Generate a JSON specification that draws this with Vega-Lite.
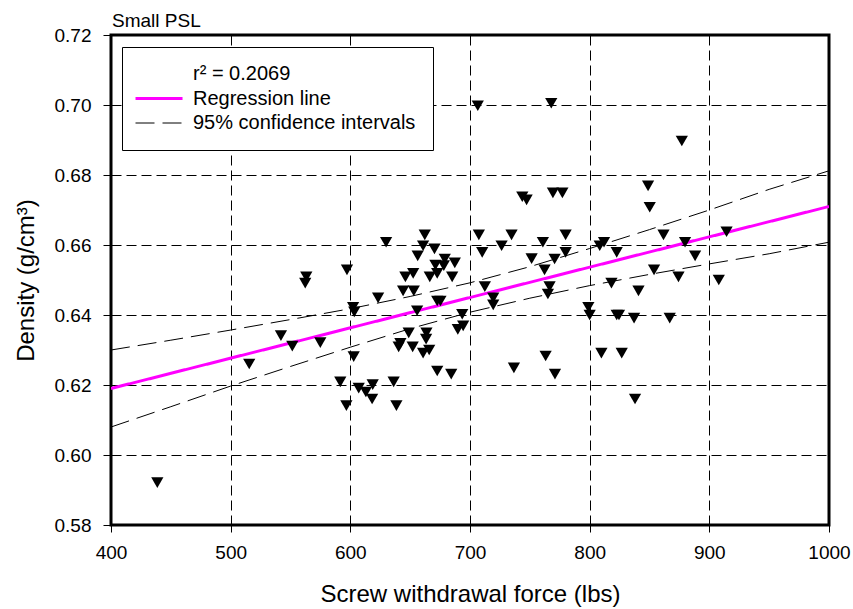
{
  "$schema": "https://vega.github.io/schema/vega-lite/v6.json",
  "width": 718,
  "height": 490,
  "autosize": {"type": "none"},
  "padding": {"left": 111, "top": 35, "right": 24, "bottom": 84},
  "background": "white",
  "title": {"text": "Small PSL", "anchor": "start", "frame": "group", "fontSize": 19, "font": "Liberation Sans", "fontWeight": "normal", "color": "black", "baseline": "alphabetic", "offset": 2, "dx": 1, "dy": 22},
  "config": {
    "view": {"stroke": "black", "strokeWidth": 3},
    "axis": {
      "labelFont": "Liberation Sans", "labelFontSize": 19, "labelColor": "black",
      "titleFont": "Liberation Sans", "titleFontSize": 24, "titleFontWeight": "normal", "titleColor": "black",
      "tickColor": "black", "tickWidth": 1, "domain": false,
      "grid": true, "gridColor": "black", "gridDash": [10, 5], "gridWidth": 1, "gridOpacity": 1,
      "labelOverlap": false, "labelFlush": false
    }
  },
  "datasets": {
    "points": [
      {"f": 662.2, "d": 0.6629}, {"f": 707.4, "d": 0.6629}, {"f": 734.7, "d": 0.6629}, {"f": 629.9, "d": 0.6608},
      {"f": 660.8, "d": 0.6598}, {"f": 670.3, "d": 0.6589}, {"f": 726.4, "d": 0.6598}, {"f": 710.2, "d": 0.6579},
      {"f": 656.3, "d": 0.6569}, {"f": 678.9, "d": 0.656}, {"f": 687.3, "d": 0.6549}, {"f": 671.1, "d": 0.6543},
      {"f": 678.1, "d": 0.6541}, {"f": 751.5, "d": 0.6561}, {"f": 563.2, "d": 0.6509}, {"f": 562.3, "d": 0.6491},
      {"f": 597.2, "d": 0.6529}, {"f": 646.0, "d": 0.6509}, {"f": 652.5, "d": 0.6519}, {"f": 666.4, "d": 0.6509},
      {"f": 672.6, "d": 0.6519}, {"f": 685.1, "d": 0.6509}, {"f": 644.1, "d": 0.6469}, {"f": 653.0, "d": 0.6469},
      {"f": 623.2, "d": 0.6449}, {"f": 712.4, "d": 0.6481}, {"f": 719.4, "d": 0.6449}, {"f": 719.4, "d": 0.6429},
      {"f": 672.6, "d": 0.644}, {"f": 675.3, "d": 0.644}, {"f": 602.3, "d": 0.6422}, {"f": 603.3, "d": 0.6409},
      {"f": 655.8, "d": 0.6412}, {"f": 693.5, "d": 0.6402}, {"f": 694.3, "d": 0.6369}, {"f": 689.8, "d": 0.6359},
      {"f": 542.0, "d": 0.6341}, {"f": 648.8, "d": 0.6349}, {"f": 663.6, "d": 0.6349}, {"f": 663.3, "d": 0.6331},
      {"f": 641.8, "d": 0.6319}, {"f": 640.4, "d": 0.6309}, {"f": 652.1, "d": 0.6309}, {"f": 551.5, "d": 0.6311},
      {"f": 574.9, "d": 0.6321}, {"f": 660.8, "d": 0.6291}, {"f": 665.9, "d": 0.630}, {"f": 602.8, "d": 0.6281},
      {"f": 515.5, "d": 0.626}, {"f": 672.6, "d": 0.624}, {"f": 684.3, "d": 0.6231}, {"f": 736.7, "d": 0.6249},
      {"f": 591.6, "d": 0.6209}, {"f": 636.2, "d": 0.6209}, {"f": 607.0, "d": 0.6191}, {"f": 613.0, "d": 0.618},
      {"f": 618.7, "d": 0.6201}, {"f": 618.2, "d": 0.616}, {"f": 596.7, "d": 0.6141}, {"f": 638.5, "d": 0.6141},
      {"f": 438.7, "d": 0.5921},
      {"f": 779.9, "d": 0.6629}, {"f": 760.9, "d": 0.6608}, {"f": 812.0, "d": 0.6608}, {"f": 808.4, "d": 0.6598},
      {"f": 861.7, "d": 0.6629}, {"f": 879.7, "d": 0.6608}, {"f": 914.4, "d": 0.6638}, {"f": 770.7, "d": 0.656},
      {"f": 779.9, "d": 0.6579}, {"f": 822.6, "d": 0.6579}, {"f": 888.1, "d": 0.6569}, {"f": 762.3, "d": 0.6529},
      {"f": 853.8, "d": 0.6529}, {"f": 874.2, "d": 0.6509}, {"f": 907.9, "d": 0.650}, {"f": 766.5, "d": 0.6481},
      {"f": 765.1, "d": 0.646}, {"f": 818.2, "d": 0.6491}, {"f": 840.8, "d": 0.6469}, {"f": 798.9, "d": 0.6422},
      {"f": 800.0, "d": 0.640}, {"f": 822.6, "d": 0.640}, {"f": 824.5, "d": 0.640}, {"f": 837.1, "d": 0.6391},
      {"f": 866.9, "d": 0.6391}, {"f": 763.2, "d": 0.6283}, {"f": 771.0, "d": 0.6231}, {"f": 809.8, "d": 0.6291},
      {"f": 826.8, "d": 0.6291}, {"f": 837.9, "d": 0.616},
      {"f": 767.9, "d": 0.7005}, {"f": 877.0, "d": 0.6897}, {"f": 848.8, "d": 0.6769}, {"f": 850.2, "d": 0.6708},
      {"f": 743.7, "d": 0.6738}, {"f": 747.3, "d": 0.6729}, {"f": 769.3, "d": 0.6749}, {"f": 777.2, "d": 0.6749},
      {"f": 706.5, "d": 0.6998}
    ],
    "lines": [
      {"series": "Regression line", "part": "reg", "f": 400, "d": 0.619},
      {"series": "Regression line", "part": "reg", "f": 1000, "d": 0.671},
      {"series": "95% confidence intervals", "part": "upper", "f": 400, "d": 0.6300},
      {"series": "95% confidence intervals", "part": "upper", "f": 450, "d": 0.6328},
      {"series": "95% confidence intervals", "part": "upper", "f": 500, "d": 0.6357},
      {"series": "95% confidence intervals", "part": "upper", "f": 550, "d": 0.6387},
      {"series": "95% confidence intervals", "part": "upper", "f": 600, "d": 0.6418},
      {"series": "95% confidence intervals", "part": "upper", "f": 650, "d": 0.6453},
      {"series": "95% confidence intervals", "part": "upper", "f": 700, "d": 0.6492},
      {"series": "95% confidence intervals", "part": "upper", "f": 750, "d": 0.6538},
      {"series": "95% confidence intervals", "part": "upper", "f": 800, "d": 0.6590},
      {"series": "95% confidence intervals", "part": "upper", "f": 850, "d": 0.6644},
      {"series": "95% confidence intervals", "part": "upper", "f": 900, "d": 0.6700},
      {"series": "95% confidence intervals", "part": "upper", "f": 950, "d": 0.6759},
      {"series": "95% confidence intervals", "part": "upper", "f": 1000, "d": 0.6812},
      {"series": "95% confidence intervals", "part": "lower", "f": 400, "d": 0.6080},
      {"series": "95% confidence intervals", "part": "lower", "f": 450, "d": 0.6138},
      {"series": "95% confidence intervals", "part": "lower", "f": 500, "d": 0.6197},
      {"series": "95% confidence intervals", "part": "lower", "f": 550, "d": 0.6253},
      {"series": "95% confidence intervals", "part": "lower", "f": 600, "d": 0.6308},
      {"series": "95% confidence intervals", "part": "lower", "f": 650, "d": 0.6361},
      {"series": "95% confidence intervals", "part": "lower", "f": 700, "d": 0.6408},
      {"series": "95% confidence intervals", "part": "lower", "f": 750, "d": 0.6448},
      {"series": "95% confidence intervals", "part": "lower", "f": 800, "d": 0.6484},
      {"series": "95% confidence intervals", "part": "lower", "f": 850, "d": 0.6516},
      {"series": "95% confidence intervals", "part": "lower", "f": 900, "d": 0.6546},
      {"series": "95% confidence intervals", "part": "lower", "f": 950, "d": 0.6575},
      {"series": "95% confidence intervals", "part": "lower", "f": 1000, "d": 0.6608}
    ]
  },
  "layer": [
    {
      "data": {"name": "lines"},
      "mark": {"type": "line", "clip": true},
      "encoding": {
        "x": {"field": "f", "type": "quantitative", "scale": {"domain": [400, 1000], "nice": false, "zero": false},
              "axis": {"values": [400, 500, 600, 700, 800, 900, 1000], "format": "d", "tickSize": 7, "labelPadding": 11, "titlePadding": 20, "title": "Screw withdrawal force (lbs)"}},
        "y": {"field": "d", "type": "quantitative", "scale": {"domain": [0.58, 0.72], "nice": false, "zero": false},
              "axis": {"values": [0.58, 0.60, 0.62, 0.64, 0.66, 0.68, 0.70, 0.72], "format": ".2f", "tickSize": 8, "labelPadding": 12, "titlePadding": 16, "title": "Density (g/cm³)"}},
        "detail": {"field": "part"},
        "strokeWidth": {"condition": {"test": "datum.series === 'Regression line'", "value": 3}, "value": 1},
        "color": {"field": "series", "type": "nominal",
          "scale": {"domain": ["r² = 0.2069", "Regression line", "95% confidence intervals"], "range": ["transparent", "#ff00ff", "black"]},
          "legend": {"title": null, "orient": "none", "legendX": 11, "legendY": 12, "symbolType": "M-1.42,0H3.53", "symbolSize": 361, "padding": 17, "labelOffset": 34, "rowPadding": 4.5, "labelFontSize": 20, "labelFont": "Liberation Sans", "labelColor": "black", "strokeColor": "black", "fillColor": "white", "labelLimit": 400, "symbolFillColor": "transparent",
            "encode": {"symbols": {"update": {"strokeWidth": {"signal": "datum.value === 'Regression line' ? 3 : 1"}}}}}},
        "strokeDash": {"field": "series", "type": "nominal",
          "scale": {"domain": ["r² = 0.2069", "Regression line", "95% confidence intervals"], "range": [[1, 0], [1, 0], [19, 8]]},
          "legend": {"title": null, "orient": "none", "legendX": 11, "legendY": 12, "symbolType": "M-1.42,0H3.53", "symbolSize": 361, "padding": 17, "labelOffset": 34, "rowPadding": 4.5, "labelFontSize": 20, "labelFont": "Liberation Sans", "labelColor": "black", "strokeColor": "black", "fillColor": "white", "labelLimit": 400, "symbolFillColor": "transparent",
            "encode": {"symbols": {"update": {"strokeWidth": {"signal": "datum.value === 'Regression line' ? 3 : 1"}}}}}}
      }
    },
    {
      "data": {"name": "points"},
      "mark": {"type": "point", "shape": "triangle-down", "filled": true, "color": "black", "size": 150, "opacity": 1},
      "encoding": {
        "x": {"field": "f", "type": "quantitative"},
        "y": {"field": "d", "type": "quantitative"}
      }
    }
  ]
}
